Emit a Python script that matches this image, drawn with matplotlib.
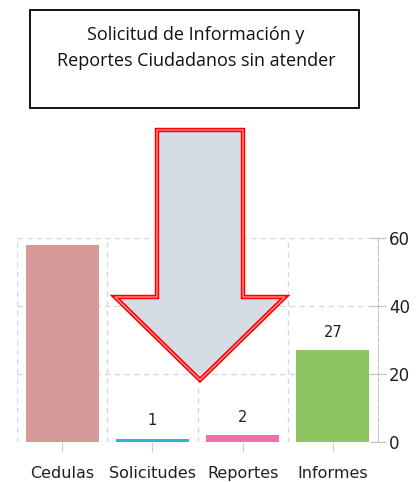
import matplotlib.pyplot as plt
from matplotlib.patches import Polygon, Rectangle

categories = ['Cedulas', 'Solicitudes', 'Reportes', 'Informes']
values = [58, 1, 2, 27]
colors = ['#D49A9A', '#2BB5D9', '#F06EA9', '#8DC462']
shown_labels = [None, '1', '2', '27']
y_ticks = [0, 20, 40, 60]

W, H = 418, 482
fig = plt.figure(figsize=(W / 100, H / 100), dpi=100)

def fx(px):
    return px / W

def fy(py):
    return 1 - py / H

# chart area
ax = fig.add_axes([fx(17), fy(442), fx(378) - fx(17), fy(238) - fy(442)])
x = list(range(len(categories)))
ax.bar(x, values, width=0.81, color=colors, zorder=2)
for xi, v, lab in zip(x, values, shown_labels):
    if lab:
        ax.text(xi, v + 3, lab, ha='center', va='bottom', fontsize=10.5,
                color='#202020', zorder=3)

ax.set_xlim(-0.5, len(categories) - 0.5)
ax.set_ylim(0, 60)
grid_kw = dict(color='#D8D8D8', linestyle=(0, (4, 3)), linewidth=1, zorder=1)
for yv in y_ticks:
    ax.axhline(yv, **grid_kw)
for b in range(len(categories)):
    ax.axvline(b - 0.5, **grid_kw)

for s in ['top', 'left', 'bottom']:
    ax.spines[s].set_visible(False)
ax.spines['right'].set_color('#C4C4C4')
ax.spines['right'].set_linestyle((0, (4, 2)))
ax.yaxis.tick_right()
ax.set_yticks(y_ticks)
ax.set_xticks(x)
ax.set_xticklabels(categories)
ax.tick_params(axis='y', colors='#BFBFBF', labelcolor='#202020', length=12,
               direction='inout', labelsize=12, pad=2)
ax.tick_params(axis='x', colors='#D0D0D0', labelcolor='#202020', length=7,
               labelsize=11.5, pad=10)

# title box
fig.patches.append(Rectangle((fx(30), fy(108)), fx(359) - fx(30), fy(10) - fy(108),
                             transform=fig.transFigure, fill=False,
                             edgecolor='black', linewidth=1.3))
fig.text(fx(196), fy(48), 'Solicitud de Información y\nReportes Ciudadanos sin atender',
         ha='center', va='center', fontsize=13, family='Open Sans',
         linespacing=1.6, color='#111111')

# big arrow
arrow_px = [(157, 130), (243, 130), (243, 297), (285, 297), (200, 380),
            (115, 297), (157, 297)]
arrow_pts = [(fx(a), fy(b)) for a, b in arrow_px]
fig.patches.append(Polygon(arrow_pts, closed=True, transform=fig.transFigure,
                           facecolor='#D6DCE5', edgecolor='#FF0000',
                           linewidth=3.2, joinstyle='miter', zorder=5))
fig.patches.append(Polygon(arrow_pts, closed=True, transform=fig.transFigure,
                           fill=False, edgecolor='#FFB0B0',
                           linewidth=0.8, joinstyle='miter', zorder=6))

fig.savefig('out.png', dpi=100)
